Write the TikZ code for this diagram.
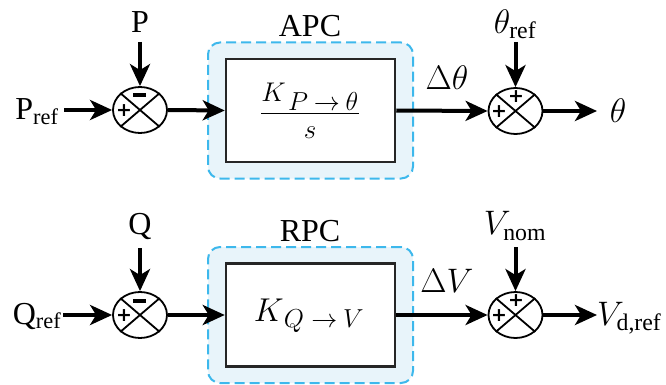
\RequirePackage{fix-cm}
\documentclass[tikz,border=0pt]{standalone}
\usepackage{amsmath}
\usepackage[no-math]{fontspec}
\setmainfont{Liberation Serif}
\newfontfamily\sgnfont{DejaVu Sans}
\usetikzlibrary{arrows.meta,shapes.geometric}
\definecolor{grpline}{HTML}{3DB8EC}
\definecolor{grpfill}{HTML}{E8F4FA}
\newcommand{\subsz}[2]{\raisebox{#1}{\fontsize{26}{28}\selectfont$#2$}}
\begin{document}
\begin{tikzpicture}[x=1pt,y=-1pt,
  sig/.style={-{Stealth[length=22pt,width=20pt,inset=6pt]}, line width=4pt},
  sumj/.style={draw, ellipse, line width=1.8pt, minimum width=54pt, minimum height=46pt, inner sep=0pt},
  blk/.style={draw=black!85, line width=2.5pt, fill=white, minimum width=169pt, minimum height=103pt, inner sep=0pt},
  grp/.style={draw=grpline, dashed, dash pattern=on 10pt off 5pt, fill=grpfill, rounded corners=12pt, line width=2pt, minimum width=205pt, minimum height=136pt},
  lbl/.style={font=\fontsize{32}{36}\selectfont, inner sep=0pt},
  mlbl/.style={font=\fontsize{34}{38}\selectfont, inner sep=0pt},
  sgn/.style={font=\sgnfont\bfseries\fontsize{19}{19}\selectfont, inner sep=0pt},
  xline/.style={line width=1.8pt}
]
\path[use as bounding box] (0,0) rectangle (666,385);

% ---------- top row (APC) ----------
\node[grp] (apcg) at (310.5,110.5) {};
\node[blk] (apc) at (310.5,110.5) {};
\node[font=\fontsize{27}{30}\selectfont, inner sep=0pt] (apcf) at (310,111)
  {$\displaystyle\frac{K_{\mkern4mu\subsz{-4pt}{P\mkern4mu{\to}\mkern4mu\theta}}}{s}$};
\node[lbl] (apcl) at (310,26) {APC};

\node[sumj] (s1) at (140,110) {};
\draw[xline] (s1.north west) -- (s1.south east) (s1.north east) -- (s1.south west);
\node[sgn] (s1t) at (139.5,95.5) {\rule{13pt}{4pt}};
\node[sgn] (s1l) at (124,111) {+};

\node[sumj] (s2) at (515.5,111) {};
\draw[xline] (s2.north west) -- (s2.south east) (s2.north east) -- (s2.south west);
\node[sgn] (s2t) at (516,97) {+};
\node[sgn] (s2l) at (499,112) {+};

\node[lbl] (pref) at (37,112) {P$_{\text{ref}}$};
\node[lbl] (p) at (140,22) {P};
\node[mlbl] (thref) at (515,24) {$\theta_{\text{ref}}$};
\node[mlbl] (dth) at (447,78) {$\Delta\theta$};
\node[mlbl] (th) at (618,111) {$\theta$};

\coordinate (prefo) at (64,110);
\coordinate (po) at (140,42);
\coordinate (threfo) at (515.5,42);
\coordinate (thi) at (597,111);

\draw[sig] (prefo) -- (s1.west);
\draw[sig] (po) -- (s1.north);
\draw[sig] (s1.east) -- (apc.west);
\draw[sig] (apc.east) -- (s2.west);
\draw[sig] (threfo) -- (s2.north);
\draw[sig] (s2.east) -- (thi);

% ---------- bottom row (RPC) ----------
\node[grp] (rpcg) at (310.5,315) {};
\node[blk] (rpc) at (310.5,315) {};
\node[font=\fontsize{33}{36}\selectfont, inner sep=0pt] (rpcf) at (309,316)
  {$K_{\mkern2mu\subsz{0pt}{Q\mkern5mu{\to}\mkern4mu V}}$};
\node[lbl] (rpcl) at (310,231) {RPC};

\node[sumj] (s3) at (140,315) {};
\draw[xline] (s3.north west) -- (s3.south east) (s3.north east) -- (s3.south west);
\node[sgn] (s3t) at (139.5,300.5) {\rule{13pt}{4pt}};
\node[sgn] (s3l) at (124,316) {+};

\node[sumj] (s4) at (515.5,315) {};
\draw[xline] (s4.north west) -- (s4.south east) (s4.north east) -- (s4.south west);
\node[sgn] (s4t) at (516,301) {+};
\node[sgn] (s4l) at (499,316) {+};

\node[lbl] (qref) at (37,316) {Q$_{\text{ref}}$};
\node[lbl] (q) at (140,226) {Q};
\node[mlbl] (vnom) at (515,226) {$V_{\text{nom}}$};
\node[mlbl] (dv) at (447,281) {$\Delta V$};
\node[mlbl, anchor=west] (vd) at (597,318) {$V_{\text{d,ref}}$};

\coordinate (qrefo) at (63,315);
\coordinate (qo) at (140,248);
\coordinate (vnomo) at (515.5,247);
\coordinate (vdi) at (597,315);

\draw[sig] (qrefo) -- (s3.west);
\draw[sig] (qo) -- (s3.north);
\draw[sig] (s3.east) -- (rpc.west);
\draw[sig] (rpc.east) -- (s4.west);
\draw[sig] (vnomo) -- (s4.north);
\draw[sig] (s4.east) -- (vdi);
\end{tikzpicture}
\end{document}
